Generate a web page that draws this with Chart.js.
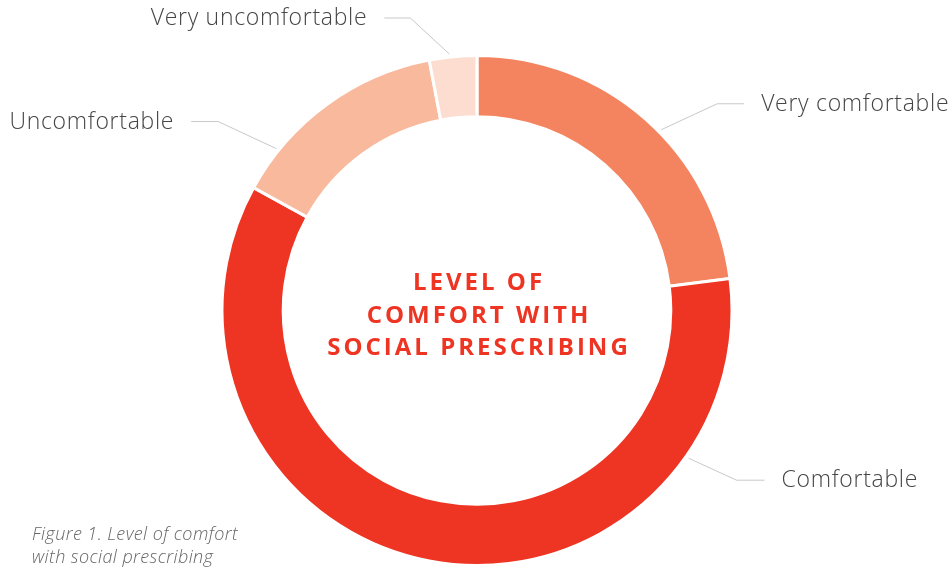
<!DOCTYPE html>
<html><head><meta charset="utf-8">
<script src="https://cdn.jsdelivr.net/npm/chart.js@4.4.1/dist/chart.umd.min.js"></script>
<style>html,body{margin:0;padding:0;background:#fff;overflow:hidden}canvas{display:block}</style>
</head><body>
<canvas id="c" width="952" height="567"></canvas>
<script>
const categories = ["Very comfortable", "Comfortable", "Uncomfortable", "Very uncomfortable"];
const values = [23, 60, 14, 3];
const colors = ["#F4845F", "#EE3524", "#F9B99D", "#FDDDD0"];
const centerTitle = ["LEVEL OF", "COMFORT WITH", "SOCIAL PRESCRIBING"];
const caption = ["Figure 1. Level of comfort", "with social prescribing"];

// leader-line layout: fraction along arc, elbow offset, horizontal length, side
const labelLayout = [
  {f: 0.55, ex: 56, ey: -26, h: 27, side: 1},
  {f: 0.195, ex: 48, ey: 22, h: 28, side: 1},
  {f: 0.2, ex: -58, ey: -27, h: 27, side: -1},
  {f: 0.43, ex: -39, ey: -36, h: 26, side: -1}
];

const FONT = '"Open Sans", "Noto Sans", sans-serif';

const overlay = {
  id: 'overlay',
  afterDraw(chart) {
    const ctx = chart.ctx;
    const meta = chart.getDatasetMeta(0);
    const arc0 = meta.data[0];
    const cx = arc0.x, cy = arc0.y;
    ctx.save();
    // center title
    ctx.fillStyle = '#EE3524';
    ctx.font = 'bold 24px ' + FONT;
    ctx.letterSpacing = '3px';
    ctx.textAlign = 'center';
    ctx.textBaseline = 'alphabetic';
    const offs = [-21, 12, 44];
    centerTitle.forEach((t, i) => ctx.fillText(t, cx + 2, cy + offs[i]));
    // labels
    ctx.font = '300 23px ' + FONT;
    ctx.letterSpacing = '0.7px';
    meta.data.forEach((arc, i) => {
      const L = labelLayout[i];
      const a = arc.startAngle + L.f * (arc.endAngle - arc.startAngle);
      const r = arc.outerRadius + 3;
      const sx = cx + Math.cos(a) * r, sy = cy + Math.sin(a) * r;
      const exx = sx + L.ex, eyy = sy + L.ey;
      const hx = exx + L.side * L.h;
      ctx.strokeStyle = '#c8c8c8';
      ctx.lineWidth = 1;
      ctx.beginPath();
      ctx.moveTo(sx, sy); ctx.lineTo(exx, eyy); ctx.lineTo(hx, eyy);
      ctx.stroke();
      ctx.fillStyle = '#454545';
      ctx.textAlign = L.side > 0 ? 'left' : 'right';
      ctx.fillText(categories[i], hx + L.side * 17, eyy + 7);
    });
    // caption
    ctx.fillStyle = '#666';
    ctx.font = 'italic 300 18px ' + FONT;
    ctx.letterSpacing = '0.4px';
    ctx.textAlign = 'left';
    ctx.fillText(caption[0], 32, 540);
    ctx.fillText(caption[1], 32, 563);
    ctx.restore();
  }
};

new Chart(document.getElementById('c'), {
  type: 'doughnut',
  data: {
    labels: categories,
    datasets: [{
      data: values,
      backgroundColor: colors,
      borderColor: '#ffffff',
      borderWidth: 3,
      hoverOffset: 0
    }]
  },
  options: {
    responsive: false,
    animation: false,
    cutout: '76%',
    layout: {padding: {top: 54, bottom: 0, left: 2, right: 0}},
    plugins: {legend: {display: false}, tooltip: {enabled: false}}
  },
  plugins: [overlay]
});
</script>
</body></html>
